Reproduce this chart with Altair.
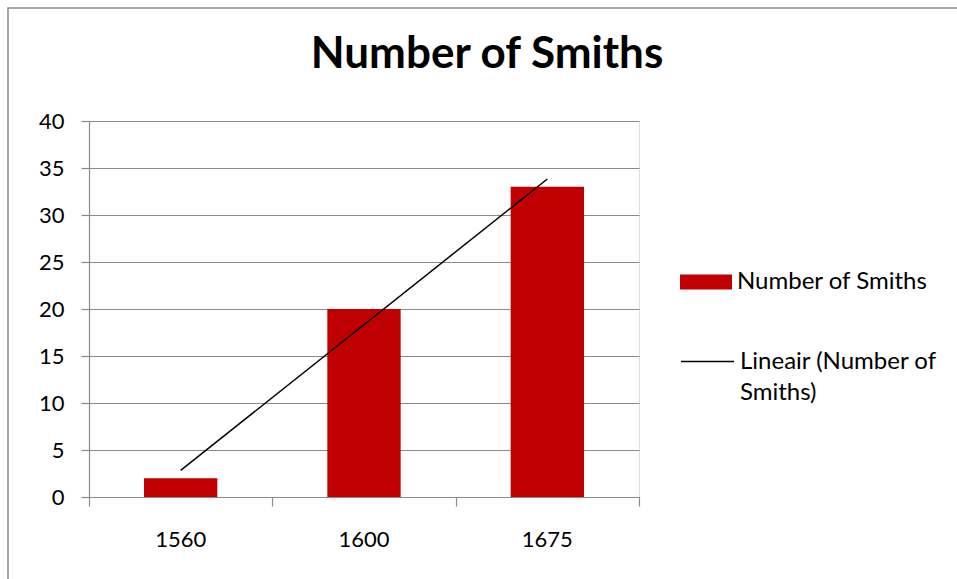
import altair as alt
import pandas as pd

years = ["1560", "1600", "1675"]
smiths = [2, 20, 33]
series_bar = "Number of Smiths"
series_trend = "Lineair (Number of Smiths)"
title_text = "Number of Smiths"

df = pd.DataFrame({"year": years, "count": smiths, "series": [series_bar] * len(years)})

FONT = "Lato"
GRID = "#8a8a8a"
W, H = 550, 376

base = alt.Chart(df)

bars = base.mark_bar().encode(
    x=alt.X("year:N", sort=years,
            scale=alt.Scale(paddingInner=0.6, paddingOuter=0.3),
            axis=alt.Axis(title=None, orient="bottom", domain=False, ticks=False,
                          labelAngle=0, labelFontSize=22, labelFont=FONT,
                          labelColor="#000000", labelPadding=32)),
    y=alt.Y("count:Q", scale=alt.Scale(domain=[0, 40], nice=False),
            axis=alt.Axis(title=None, values=list(range(0, 41, 5)), grid=True,
                          gridColor=GRID, gridWidth=1.2, domainColor=GRID,
                          domainWidth=1.2, tickColor=GRID, tickWidth=1.2, tickSize=8,
                          labelFontSize=22, labelFont=FONT, labelColor="#000000",
                          labelPadding=17)),
    fill=alt.Fill("series:N", scale=alt.Scale(range=["#C00000"]),
                  legend=alt.Legend(title=None, orient="none", legendX=591, legendY=135,
                                    symbolType="M-1,-0.29H1V0.29H-1Z", symbolSize=2704,
                                    symbolStrokeWidth=0, labelFontSize=24, labelFont=FONT,
                                    labelLimit=400, labelOffset=5, padding=0)),
)

trend = base.transform_window(
    idx="row_number()"
).transform_regression(
    "idx", "count", method="linear", extent=[1, 3]
).transform_calculate(
    trend_series=f"'{series_trend}'"
).mark_line(strokeWidth=1.5).encode(
    x=alt.X("idx:Q", scale=alt.Scale(domain=[0.5, 3.5], nice=False, zero=False),
            axis=alt.Axis(title=None, orient="bottom", values=[0.5, 1.5, 2.5, 3.5],
                          labels=False, grid=False, domainColor=GRID, domainWidth=1.2,
                          tickColor=GRID, tickWidth=1.2, tickSize=9)),
    y=alt.Y("count:Q"),
    stroke=alt.Stroke("trend_series:N", scale=alt.Scale(range=["black"]),
                      legend=alt.Legend(title=None, orient="none", legendX=591, legendY=213,
                                        symbolType="M-1,0H1", symbolSize=2809,
                                        symbolStrokeWidth=1.5, labelFontSize=24,
                                        labelFont=FONT, labelLimit=400, labelOffset=5,
                                        padding=0,
                                        labelExpr="split(replace(datum.label, 'of ', 'of|'), '|')")),
)

frame = alt.Chart(pd.DataFrame({"k": [0]})).mark_rect(
    filled=False, stroke="#8a8a8a", strokeWidth=1.5
).encode(x=alt.value(-81), x2=alt.value(900), y=alt.value(-113), y2=alt.value(600))

chart = alt.layer(frame, bars, trend).resolve_scale(
    x="independent"
).properties(
    width=W, height=H,
    autosize=alt.AutoSizeParams(type="none"),
    padding={"left": 89, "top": 121, "right": 318, "bottom": 82},
    title=alt.TitleParams(text=title_text, font=FONT, fontSize=44, fontWeight="bold",
                          color="#000000", anchor="middle", dx=123, offset=-105,
                          baseline="alphabetic"),
).configure_view(stroke=None).configure(
    background="white",
    style={"guide-label": {"lineHeight": 31}},
)

chart.save("out.html", embed_options={"renderer": "svg", "actions": False})
